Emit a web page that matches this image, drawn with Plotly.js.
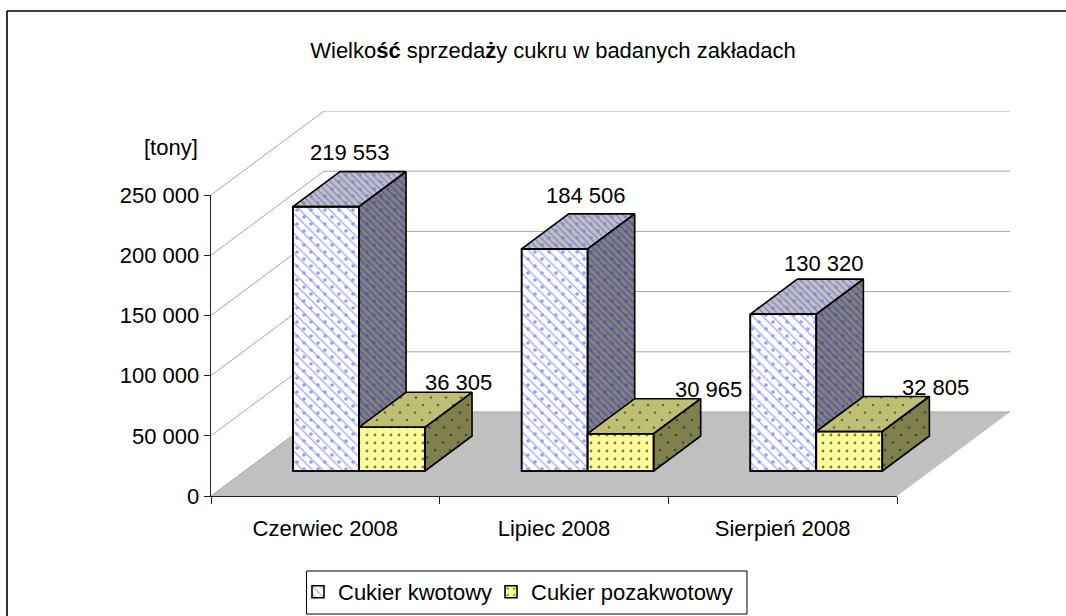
<!DOCTYPE html>
<html><head><meta charset="utf-8">
<script src="https://cdn.plot.ly/plotly-3.0.1.min.js"></script>
<style>html,body{margin:0;padding:0;background:#fff}#c{width:1066px;height:616px}</style>
</head><body><div id="c"></div>
<script>
// ---- data ----
const categories = ["Czerwiec 2008", "Lipiec 2008", "Sierpień 2008"];
const seriesNames = ["Cukier kwotowy", "Cukier pozakwotowy"];
const kwotowy = [219553, 184506, 130320];
const pozakwotowy = [36305, 30965, 32805];
const valueTicks = [0, 50000, 100000, 150000, 200000, 250000];
const valueTickLabels = ["0", "50 000", "100 000", "150 000", "200 000", "250 000"];
const dataLabels = [["219 553", "184 506", "130 320"], ["36 305", "30 965", "32 805"]];
// ---- label nudges in pixels, relative to back-top centre of each block ----
const labelNudgeX = [[-23, -16, -6], [19, 41, 39]];
const labelNudgeY = [[-19, -18, -16], [-10, -9, -9]];

// ---- geometry (pixels of the page) ----
const W = 1066, H = 616;
const L = 211, B = 496;            // origin of the front edge
const catPx = 686 / 3;             // width of one category
const valPx = 301 / 250000;        // pixels per ton
const depthX = 113, depthY = 84;   // oblique depth of the box
const rightEdge = L + 686 + depthX, topEdge = B - 301 - depthY;
const xMax = (rightEdge - L) / catPx, yMax = (B - topEdge) / valPx;
const dFront = 25 / 84, dBack = 60 / 84;
const barW = 66 / catPx, barGap = 48.33 / catPx;

// depth projection: category units + depth, value units + depth -> main axes
const PX = (c, d) => c + d * depthX / catPx;
const PY = (v, d) => v + d * depthY / valPx;
const toPx = (x, y) => [L + x * catPx, B - y * valPx];
const fromPx = (px, py) => [(px - L) / catPx, (B - py) / valPx];

function polyTrace(pts, fill, ax, line) {
  return {type: "scatter", mode: "lines", x: pts.map(p => p[0]), y: pts.map(p => p[1]),
    fill: "toself", fillcolor: fill, line: line || {color: "rgba(0,0,0,0)", width: 0},
    hoverinfo: "skip", showlegend: false, xaxis: ax[0], yaxis: ax[1]};
}
function outlineTrace(pts, ax, line) {
  const closed = pts.concat([pts[0]]);
  return {type: "scatter", mode: "lines", x: closed.map(p => p[0]), y: closed.map(p => p[1]),
    line, hoverinfo: "skip", showlegend: false, xaxis: ax[0], yaxis: ax[1]};
}
// diagonal stripes and dots clipped to a convex face
function stripes(pts, period, color, width, ax) {
  const p = pts.map(q => toPx(q[0], q[1]));
  const cs = p.map(q => (q[0] - L) - (q[1] - topEdge));
  const xs = [], ys = [];
  for (let k = Math.ceil(Math.min(...cs) / period); k * period <= Math.max(...cs); k++) {
    const c = k * period, hit = [];
    for (let i = 0; i < p.length; i++) {
      const a = p[i], b = p[(i + 1) % p.length];
      const ca = (a[0] - L) - (a[1] - topEdge), cb = (b[0] - L) - (b[1] - topEdge);
      if ((ca - c) * (cb - c) <= 0 && ca !== cb) {
        const t = (c - ca) / (cb - ca);
        hit.push([a[0] + t * (b[0] - a[0]), a[1] + t * (b[1] - a[1])]);
      }
    }
    if (hit.length >= 2) {
      hit.sort((u, v) => u[0] - v[0]);
      const s = fromPx(...hit[0]), e = fromPx(...hit[hit.length - 1]);
      xs.push(s[0], e[0], null); ys.push(s[1], e[1], null);
    }
  }
  return {type: "scatter", mode: "lines", x: xs, y: ys, line: {color, width},
    hoverinfo: "skip", showlegend: false, xaxis: ax[0], yaxis: ax[1]};
}
function inside(p, q) {
  let sign = 0;
  for (let i = 0; i < p.length; i++) {
    const a = p[i], b = p[(i + 1) % p.length];
    const cr = (b[0] - a[0]) * (q[1] - a[1]) - (b[1] - a[1]) * (q[0] - a[0]);
    if (cr !== 0) { if (sign && Math.sign(cr) !== sign) return false; sign = Math.sign(cr); }
  }
  return true;
}
function dots(pts, lattice, color, size, ax) {
  const p = pts.map(q => toPx(q[0], q[1]));
  const xs = [], ys = [];
  const x0 = Math.min(...p.map(q => q[0])), x1 = Math.max(...p.map(q => q[0]));
  const y0 = Math.min(...p.map(q => q[1])), y1 = Math.max(...p.map(q => q[1]));
  for (let y = Math.floor(y0 / lattice.dy) * lattice.dy; y <= y1; y += lattice.dy) {
    const off = (Math.round(y / lattice.dy) * lattice.stagger) % lattice.dx + (lattice.ox || 0);
    for (let x = Math.floor(x0 / lattice.dx) * lattice.dx + off - lattice.dx; x <= x1; x += lattice.dx) {
      if (inside(p, [x, y])) { const d = fromPx(x, y); xs.push(d[0]); ys.push(d[1]); }
    }
  }
  return {type: "scatter", mode: "markers", x: xs, y: ys,
    marker: {color, size, symbol: "circle", line: {width: 0}},
    hoverinfo: "skip", showlegend: false, xaxis: ax[0], yaxis: ax[1]};
}

const traces = [];
const A0 = ["x", "y"], A1 = ["x2", "y2"], A2 = ["x3", "y3"], AT = ["x4", "y4"];

// floor
traces.push(polyTrace([[PX(0,0),PY(0,0)],[PX(3,0),PY(0,0)],[PX(3,1),PY(0,1)],[PX(0,1),PY(0,1)]], "#c0c0c0", A0));
// gridlines on the two walls
const gx = [], gy = [];
valueTicks.forEach(v => { gx.push(PX(0,0), PX(0,1), PX(3,1), null); gy.push(PY(v,0), PY(v,1), PY(v,1), null); });
traces.push({type: "scatter", mode: "lines", x: gx, y: gy, line: {color: "#a6a6a6", width: 1},
  hoverinfo: "skip", showlegend: false, xaxis: "x", yaxis: "y"});

const outline = {color: "#000", width: 1.6};
const styles = [
  {front: "#ffffff", pattern: {shape: "\\", fgcolor: "#a8a8ff", bgcolor: "#ffffff", size: 7, solidity: 0.2},
   top: "#bfbfbf", side: "#808080", topS: "#8a8ad0", sideS: "#58589a"},
  {front: "#ffff99", pattern: {shape: ".", fgcolor: "#77775a", bgcolor: "#ffff99", size: 8, solidity: 0.1},
   top: "#bfbf73", side: "#80804d", topD: "#66664a", sideD: "#454530"}
];
const stripeDots = {dx: 14, dy: 7, stagger: 7, ox: 3};
const yellowDots = {dx: 15, dy: 7.5, stagger: 7};

[kwotowy, pozakwotowy].forEach((vals, s) => {
  const ax = s === 0 ? A1 : A2, st = styles[s];
  const xsC = vals.map((_, i) => PX(i, dFront) + barGap + barW * (s + 0.5));
  traces.push({type: "bar", name: seriesNames[s], x: xsC, y: vals, width: barW,
    base: vals.map(() => PY(0, dFront)),
    marker: {color: st.front, pattern: st.pattern, line: {color: "#000", width: 1.6}},
    hoverinfo: "skip", xaxis: ax[0], yaxis: ax[1], showlegend: true,
    legend: s === 0 ? "legend" : "legend2"});
  vals.forEach((v, i) => {
    const l = i + barGap + barW * s, r = l + barW;
    const fTL = [PX(l,dFront),PY(v,dFront)], fTR = [PX(r,dFront),PY(v,dFront)], fBR = [PX(r,dFront),PY(0,dFront)];
    const fBL = [PX(l,dFront),PY(0,dFront)];
    const bTL = [PX(l,dBack),PY(v,dBack)], bTR = [PX(r,dBack),PY(v,dBack)], bBR = [PX(r,dBack),PY(0,dBack)];
    const topFace = [fTL, fTR, bTR, bTL], sideFace = [fTR, bTR, bBR, fBR], frontFace = [fTL, fTR, fBR, fBL];
    traces.push(polyTrace(topFace, st.top, ax));
    traces.push(polyTrace(sideFace, st.side, ax));
    if (s === 0) {
      traces.push(stripes(topFace, 7, st.topS, 1.4, ax));
      traces.push(stripes(sideFace, 7, st.sideS, 1.4, ax));
      traces.push(dots(frontFace, stripeDots, "#9999ff", 3.6, ax));
      traces.push(dots(topFace, stripeDots, st.topS, 3.6, ax));
      traces.push(dots(sideFace, stripeDots, st.sideS, 3.6, ax));
    } else {
      traces.push(dots(topFace, yellowDots, st.topD, 2.6, ax));
      traces.push(dots(sideFace, yellowDots, st.sideD, 2.6, ax));
    }
    traces.push(outlineTrace(topFace, ax, outline));
    traces.push(outlineTrace(sideFace, ax, outline));
    traces.push(outlineTrace(frontFace, ax, outline));
  });
});

// visible axes carrier
traces.push({type: "scatter", mode: "markers", x: [0], y: [0], marker: {opacity: 0, size: 1},
  hoverinfo: "skip", showlegend: false, xaxis: "x4", yaxis: "y4"});

// data labels
const txt = {family: "Liberation Sans", size: 22, color: "#000"};
const annotations = [];
[kwotowy, pozakwotowy].forEach((vals, s) => vals.forEach((v, i) => {
  const c = i + barGap + barW * (s + 0.5);
  annotations.push({x: PX(c, dBack), y: PY(v, dBack), xref: "x3", yref: "y3", text: dataLabels[s][i], showarrow: false,
    xanchor: "center", yanchor: "middle", xshift: labelNudgeX[s][i], yshift: -labelNudgeY[s][i], font: txt});
}));
annotations.push({x: 171 / W, y: (H - 147) / H, xref: "paper", yref: "paper", text: "[tony]", showarrow: false,
  xanchor: "center", yanchor: "middle", font: txt});

const dx = [L / W, rightEdge / W], dy = [(H - B) / H, (H - topEdge) / H];
const hidden = {showgrid: false, zeroline: false, showline: false, showticklabels: false, ticks: "", fixedrange: true};
const hx = Object.assign({}, hidden, {range: [0, xMax]});
const hy = Object.assign({}, hidden, {range: [0, yMax]});

const layout = {
  width: W, height: H, margin: {l: 0, r: 0, t: 0, b: 0}, paper_bgcolor: "#fff", plot_bgcolor: "rgba(0,0,0,0)",
  barmode: "overlay", hovermode: false,
  font: txt,
  title: {text: "Wielko<b>ść</b> sprzeda<b>ż</b>y cukru w badanych zakładach",
    x: 553 / W, xanchor: "center", y: (H - 50) / H, yanchor: "middle", font: txt},
  xaxis: Object.assign({domain: dx}, hx, {anchor: "y"}),
  yaxis: Object.assign({domain: dy}, hy, {anchor: "x"}),
  xaxis2: Object.assign({}, hx, {overlaying: "x", anchor: "y2"}),
  yaxis2: Object.assign({}, hy, {overlaying: "y", anchor: "x2"}),
  xaxis3: Object.assign({}, hx, {overlaying: "x", anchor: "y3"}),
  yaxis3: Object.assign({}, hy, {overlaying: "y", anchor: "x3"}),
  xaxis4: {domain: [L / W, (L + 686) / W], range: [0, 3], anchor: "y4", fixedrange: true,
    showgrid: false, zeroline: false, showline: true, linecolor: "#222", linewidth: 1.4,
    tickmode: "array", tickvals: [0.5, 1.5, 2.5], ticktext: categories, ticks: "outside", ticklen: 0,
    ticklabelstandoff: 12, tickfont: txt,
    minor: {tickmode: "array", tickvals: [0, 1, 2, 3], ticks: "outside", ticklen: 7, tickcolor: "#222", tickwidth: 1}},
  yaxis4: {domain: [(H - B) / H, (H - B + 301) / H], range: [0, 250000], anchor: "x4", fixedrange: true,
    showgrid: false, zeroline: false, showline: true, linecolor: "#222", linewidth: 1.4,
    tickmode: "array", tickvals: valueTicks, ticktext: valueTickLabels, ticks: "outside", ticklen: 6, tickcolor: "#222",
    tickfont: txt},
  legend: {orientation: "h", x: 298 / W, xanchor: "left", y: (H - 592) / H, yanchor: "middle",
    bgcolor: "rgba(0,0,0,0)", borderwidth: 0, font: txt, itemclick: false, itemdoubleclick: false},
  legend2: {orientation: "h", x: 491 / W, xanchor: "left", y: (H - 592) / H, yanchor: "middle",
    bgcolor: "rgba(0,0,0,0)", borderwidth: 0, font: txt, itemclick: false, itemdoubleclick: false},
  shapes: [
    {type: "line", xref: "paper", yref: "paper", x0: 7 / W, x1: 1, y0: (H - 11) / H, y1: (H - 11) / H, line: {color: "#000", width: 1.6}},
    {type: "line", xref: "paper", yref: "paper", x0: 7 / W, x1: 7 / W, y0: 0, y1: (H - 11) / H, line: {color: "#000", width: 1.6}},
    {type: "rect", xref: "paper", yref: "paper", x0: 306.5 / W, x1: 747 / W, y0: (H - 614) / H, y1: (H - 571) / H, line: {color: "#000", width: 1}, fillcolor: "#fff", layer: "below"}
  ],
  annotations
};
Plotly.newPlot("c", traces, layout, {displayModeBar: false, staticPlot: true});
</script>
</body></html>
